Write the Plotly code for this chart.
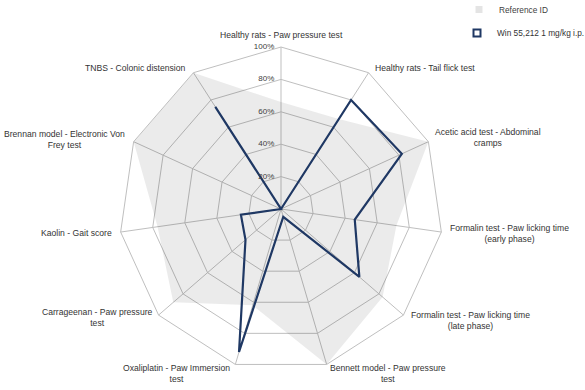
import math
import plotly.graph_objects as go

categories = [
    "Healthy rats - Paw pressure test",
    "Healthy rats - Tail flick test",
    "Acetic acid test - Abdominal<br>cramps",
    "Formalin test - Paw licking time<br>(early phase)",
    "Formalin test - Paw licking time<br>(late phase)",
    "Bennett model - Paw pressure<br>test",
    "Oxaliplatin - Paw Immersion<br>test",
    "Carrageenan - Paw pressure<br>test",
    "Kaolin - Gait score",
    "Brennan model - Electronic Von<br>Frey test",
    "TNBS - Colonic distension",
]
reference_id = [66, 66, 100, 72, 83, 100, 62, 88, 77, 100, 100]
win_55212 = [0, 80, 82, 46, 64, 5, 92, 29, 25, 0, 75]
radial_ticks = [0, 20, 40, 60, 80, 100]
radial_tick_labels = ["0%", "20%", "40%", "60%", "80%", "100%"]

FONT = "Liberation Sans, Arial, sans-serif"
NAVY = "#1f3864"
W, H = 585, 390
CX, CY, R = 281, 209, 162  # polar centre / radius in px

theta_closed = categories + [categories[0]]

fig = go.Figure()
fig.add_trace(go.Scatterpolar(
    r=reference_id + [reference_id[0]], theta=theta_closed,
    mode="lines", fill="toself", fillcolor="rgba(0,0,0,0.08)",
    line=dict(width=0, color="rgba(0,0,0,0)"),
    name="Reference ID", showlegend=False, hoverinfo="skip",
))
fig.add_trace(go.Scatterpolar(
    r=win_55212 + [win_55212[0]], theta=theta_closed,
    mode="lines", line=dict(color=NAVY, width=2.2),
    name="Win 55,212 1 mg/kg i.p.", showlegend=False,
))
# radial tick labels (left of the vertical axis, horizontal)
fig.add_trace(go.Scatterpolar(
    r=radial_ticks, theta=[categories[0]] * len(radial_ticks),
    mode="text", text=[t + "   " for t in radial_tick_labels],
    textposition="middle left", cliponaxis=False,
    textfont=dict(size=8, color="#404040", family=FONT),
    showlegend=False, hoverinfo="skip",
))
# legend entries
fig.add_trace(go.Scatterpolar(
    r=[None], theta=[categories[0]], mode="markers",
    marker=dict(symbol="square", size=7, color="#e4e4e4"),
    name="Reference ID", legend="legend",
))
fig.add_trace(go.Scatterpolar(
    r=[None], theta=[categories[0]], mode="markers",
    marker=dict(symbol="square-open", size=7, color=NAVY, line=dict(width=2, color=NAVY)),
    name="Win 55,212 1 mg/kg i.p.", legend="legend2",
))

# category labels placed around the outer polygon (Excel-like placement)
label_style = [  # (xanchor, xshift, yshift)
    ("center", 0, 12),
    ("left", 4, 5),
    ("left", 5, 4),
    ("left", 7, -1),
    ("left", 6, -5),
    ("left", 1, -9),
    ("right", -3, -9),
    ("right", -4, -2),
    ("right", -7, -1),
    ("right", -7, 2.5),
    ("right", -5, 5),
]
n = len(categories)
annotations = []
for k, (lab, (xa, xs, ys)) in enumerate(zip(categories, label_style)):
    ang = math.radians(360.0 * k / n)
    px = CX + R * math.sin(ang)
    py = CY - R * math.cos(ang)
    annotations.append(dict(
        text=lab, x=px / W, y=1 - py / H, xref="paper", yref="paper",
        xanchor=xa, yanchor="middle", xshift=xs, yshift=ys,
        showarrow=False, align="center",
        font=dict(size=8.6, color="#333333", family=FONT),
    ))

fig.update_layout(
    width=W, height=H,
    margin=dict(l=0, r=0, t=0, b=0, autoexpand=False),
    paper_bgcolor="white",
    font=dict(family=FONT, size=9, color="#404040"),
    annotations=annotations,
    polar=dict(
        domain=dict(x=[(CX - R) / W, (CX + R) / W], y=[1 - (CY + R) / H, 1 - (CY - R) / H]),
        bgcolor="white",
        gridshape="linear",
        angularaxis=dict(
            rotation=90, direction="clockwise",
            showline=True, linecolor="#bfbfbf", linewidth=1,
            gridcolor="#bfbfbf", gridwidth=1,
            ticks="", showticklabels=False,
        ),
        radialaxis=dict(
            range=[0, 100], tickvals=radial_ticks,
            angle=90, showticklabels=False,
            showline=False, ticks="",
            gridcolor="#bfbfbf", gridwidth=1,
        ),
    ),
    legend=dict(x=(499-40)/W, y=1-9.5/H, xanchor="left", yanchor="middle",
                font=dict(size=8.3, color="#404040", family=FONT), bgcolor="rgba(0,0,0,0)"),
    legend2=dict(x=(497-40)/W, y=1-33/H, xanchor="left", yanchor="middle",
                 font=dict(size=8.3, color="#333333", family=FONT), bgcolor="rgba(0,0,0,0)"),
)

fig.write_html("out.html", config={"displayModeBar": False},
               post_script="document.body.style.margin='0px';")
